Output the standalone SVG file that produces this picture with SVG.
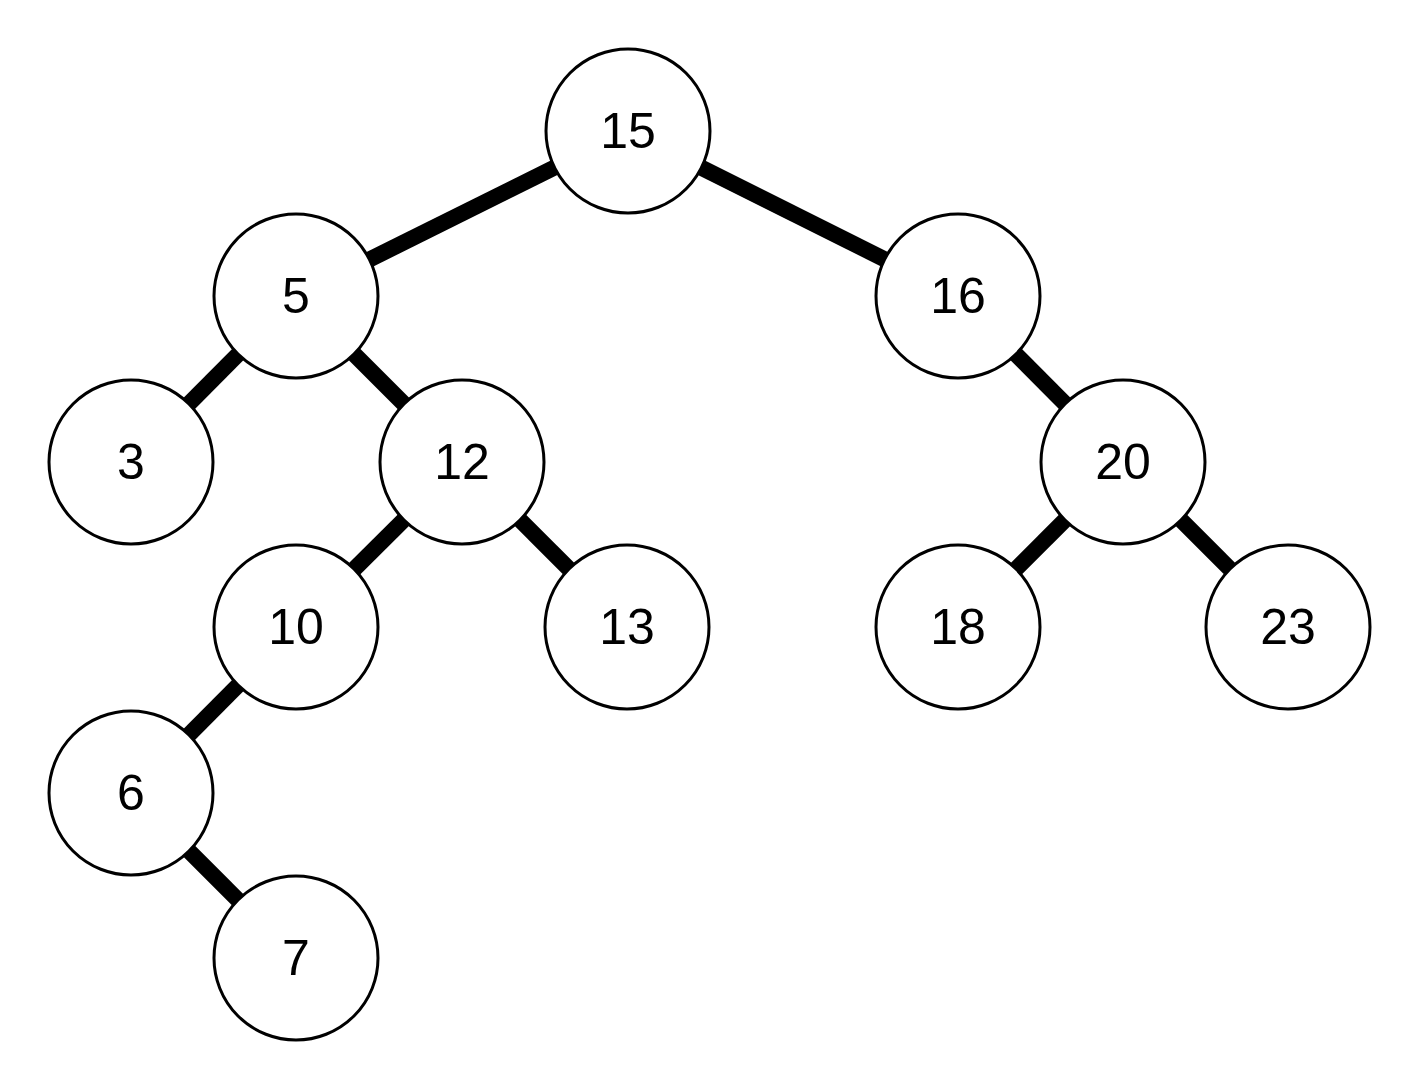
<svg xmlns="http://www.w3.org/2000/svg" width="1420" height="1087" viewBox="0 0 1420 1087">
<style>
.edge{stroke:#000;stroke-width:16}
.node circle{fill:#fff;stroke:#000;stroke-width:3}
.node text{font-family:"Liberation Sans",Arial,sans-serif;font-size:50px;fill:#000;text-anchor:middle}
</style>
<rect width="1420" height="1087" fill="#fff"/>
<g id="connectors">
<line class="edge" x1="628" y1="131" x2="296" y2="296"/>
<line class="edge" x1="628" y1="131" x2="958" y2="296"/>
<line class="edge" x1="296" y1="296" x2="131" y2="462"/>
<line class="edge" x1="296" y1="296" x2="462" y2="462"/>
<line class="edge" x1="958" y1="296" x2="1123" y2="462"/>
<line class="edge" x1="462" y1="462" x2="296" y2="627"/>
<line class="edge" x1="462" y1="462" x2="627" y2="627"/>
<line class="edge" x1="1123" y1="462" x2="958" y2="627"/>
<line class="edge" x1="1123" y1="462" x2="1288" y2="627"/>
<line class="edge" x1="296" y1="627" x2="131" y2="793"/>
<line class="edge" x1="131" y1="793" x2="296" y2="958"/>
</g>
<g id="n15" class="node"><circle cx="628" cy="131" r="82"/><text x="628" y="148">15</text></g>
<g id="n5" class="node"><circle cx="296" cy="296" r="82"/><text x="296" y="313">5</text></g>
<g id="n16" class="node"><circle cx="958" cy="296" r="82"/><text x="958" y="313">16</text></g>
<g id="n3" class="node"><circle cx="131" cy="462" r="82"/><text x="131" y="479">3</text></g>
<g id="n12" class="node"><circle cx="462" cy="462" r="82"/><text x="462" y="479">12</text></g>
<g id="n20" class="node"><circle cx="1123" cy="462" r="82"/><text x="1123" y="479">20</text></g>
<g id="n10" class="node"><circle cx="296" cy="627" r="82"/><text x="296" y="644">10</text></g>
<g id="n13" class="node"><circle cx="627" cy="627" r="82"/><text x="627" y="644">13</text></g>
<g id="n18" class="node"><circle cx="958" cy="627" r="82"/><text x="958" y="644">18</text></g>
<g id="n23" class="node"><circle cx="1288" cy="627" r="82"/><text x="1288" y="644">23</text></g>
<g id="n6" class="node"><circle cx="131" cy="793" r="82"/><text x="131" y="810">6</text></g>
<g id="n7" class="node"><circle cx="296" cy="958" r="82"/><text x="296" y="975">7</text></g>
</svg>
